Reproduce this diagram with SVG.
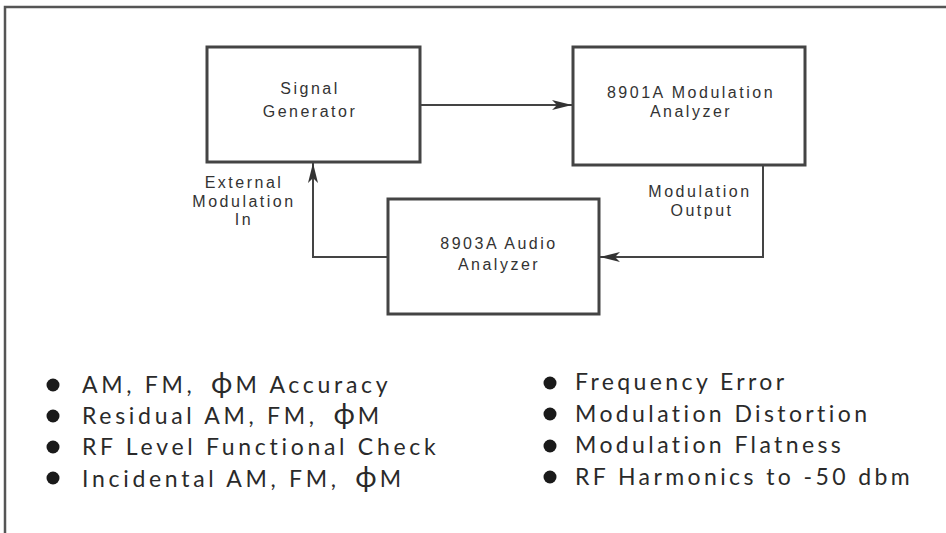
<svg xmlns="http://www.w3.org/2000/svg" width="946" height="533" viewBox="0 0 946 533">
<style>
.box{fill:#fff;stroke:#444;stroke-width:3}
.lbl{font-family:"Liberation Sans",Arial,sans-serif;font-size:16px;letter-spacing:2.5px;fill:#333;text-anchor:middle}
.wire{fill:none;stroke:#444;stroke-width:2}
.item{font-family:Lato,"Open Sans",sans-serif;font-size:23px;letter-spacing:3.4px;fill:#2a2a2a}
.wide{letter-spacing:3.7px}
.phi{font-size:29px;letter-spacing:0}
.dot{fill:#1a1a1a}
</style>
<defs>
<marker id="ah" markerWidth="20" markerHeight="10" refX="20" refY="5" orient="auto" markerUnits="userSpaceOnUse">
<path d="M0,0 L20,5 L0,10 L5,5 Z" fill="#333"/>
</marker>
</defs>
<rect width="946" height="533" fill="#fff"/>
<path d="M5,533 V7 H946" fill="none" stroke="#555" stroke-width="2.5"/>
<g id="connectors">
<line class="wire" x1="420" y1="105" x2="572" y2="105" marker-end="url(#ah)"/>
<polyline class="wire" points="763,165 763,257 600,257" marker-end="url(#ah)"/>
<polyline class="wire" points="388,257 313,257 313,163" marker-end="url(#ah)"/>
</g>
<g id="signal-generator">
<rect class="box" x="207" y="47" width="213" height="115"/>
<text class="lbl" x="310" y="94">Signal</text>
<text class="lbl" x="310" y="117">Generator</text>
</g>
<g id="modulation-analyzer">
<rect class="box" x="573" y="47" width="232" height="118"/>
<text class="lbl" x="691" y="98">8901A Modulation</text>
<text class="lbl" x="691" y="117">Analyzer</text>
</g>
<g id="audio-analyzer">
<rect class="box" x="388" y="199" width="211" height="115"/>
<text class="lbl" x="499" y="249">8903A Audio</text>
<text class="lbl" x="499" y="270">Analyzer</text>
</g>
<g id="label-external">
<text class="lbl" x="244" y="188">External</text>
<text class="lbl" x="244" y="207">Modulation</text>
<text class="lbl" x="244" y="225">In</text>
</g>
<g id="label-output">
<text class="lbl" x="700" y="197">Modulation</text>
<text class="lbl" x="702" y="216">Output</text>
</g>
<g id="list-left">
<circle class="dot" cx="53" cy="385" r="6.5"/>
<circle class="dot" cx="53" cy="416" r="6.5"/>
<circle class="dot" cx="53" cy="447" r="6.5"/>
<circle class="dot" cx="53" cy="478" r="6.5"/>
<text class="item wide" x="82" y="393">AM, FM, <tspan class="phi" dx="6">ϕ</tspan><tspan dx="3">M</tspan> Accuracy</text>
<text class="item wide" x="82" y="424">Residual AM, FM, <tspan class="phi" dx="6">ϕ</tspan><tspan dx="3">M</tspan></text>
<text class="item wide" x="82" y="455">RF Level Functional Check</text>
<text class="item wide" x="82" y="487">Incidental AM, FM, <tspan class="phi" dx="6">ϕ</tspan><tspan dx="3">M</tspan></text>
</g>
<g id="list-right">
<circle class="dot" cx="550" cy="383" r="6.5"/>
<circle class="dot" cx="550" cy="414" r="6.5"/>
<circle class="dot" cx="550" cy="446" r="6.5"/>
<circle class="dot" cx="550" cy="477" r="6.5"/>
<text class="item" x="575" y="390">Frequency Error</text>
<text class="item" x="575" y="422">Modulation Distortion</text>
<text class="item" x="575" y="453">Modulation Flatness</text>
<text class="item" x="575" y="485">RF Harmonics to -50 dbm</text>
</g>
</svg>
